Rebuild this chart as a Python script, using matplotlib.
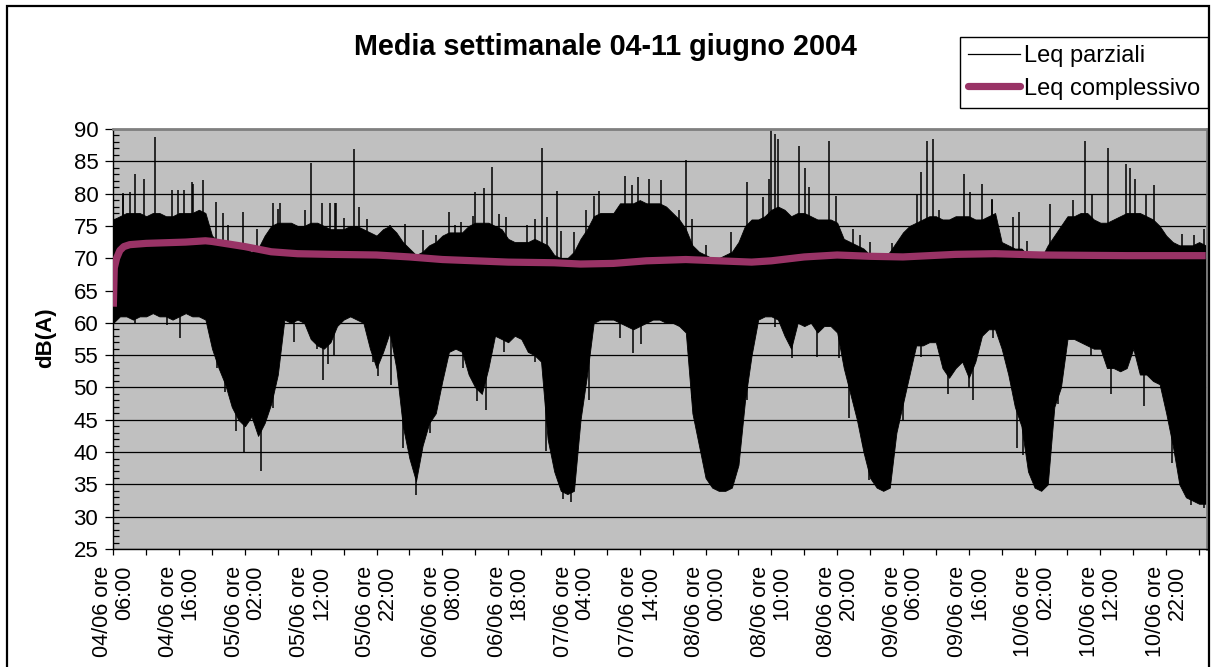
import datetime
import numpy as np
import matplotlib
matplotlib.use("Agg")
import matplotlib.pyplot as plt
from matplotlib.patches import Rectangle
from matplotlib.lines import Line2D
from matplotlib.ticker import MultipleLocator

plt.rcParams['font.family'] = ['Liberation Sans', 'DejaVu Sans']

# ---- data: hours elapsed since 04/06/2004 06:00 ----
# Leq parziali: dense envelope of the short-term levels, one value per hour
hours = list(range(167))
leq_top = [
    76, 76.5, 77, 77, 77, 76.5, 77, 77, 76.5, 76.5,
    77, 77, 77, 77.5, 77, 73.5, 72.5, 72, 72, 71.5,
    71.5, 71, 71.5, 73.5, 75, 75.5, 75.5, 75.5, 75, 75,
    75.5, 75.5, 75, 74.5, 74.5, 74.5, 75, 75, 74.5, 74,
    73.5, 74.5, 75, 74, 72.5, 71.5, 70.5, 71, 72, 72.5,
    73.5, 74, 74, 74, 75, 75.5, 75.5, 75.5, 75, 74.5,
    73, 72.5, 72.5, 72.5, 73, 72.5, 72, 70.5, 70, 70,
    71, 73, 74.5, 76.5, 77, 77, 77, 78.5, 78.5, 78.5,
    79, 78.5, 78.5, 78.5, 78, 77, 76, 74.5, 72, 71,
    70.5, 70, 70, 70.5, 71, 72.5, 75, 76, 76, 76.5,
    77.5, 78, 77.5, 76.5, 77, 77, 76.5, 76, 76, 76,
    75.5, 73, 72.5, 72, 71.5, 70.5, 70, 70, 71, 72.5,
    74, 75, 75.5, 76, 76.5, 76.5, 76, 76, 76.5, 76.5,
    76.5, 76, 76, 76.5, 77, 72.5, 72, 71.5, 71.5, 70.5,
    70, 70, 72, 73.5, 75, 76.5, 76.5, 77, 77, 76,
    75.5, 75.5, 76, 76.5, 77, 77, 77, 76.5, 76, 75,
    73.5, 72.5, 72, 72, 72, 72.5, 72,
]
leq_bottom = [
    60, 61, 61, 60.5, 61, 61, 61.5, 61, 61, 60.5,
    61, 61.5, 61, 61, 60.5, 56, 53, 50.5, 47, 45,
    44, 45.5, 42.5, 44.5, 47.5, 52, 60.5, 60, 60.5, 60,
    57.5, 56.5, 56, 57, 59.5, 60.5, 61, 60.5, 60, 56,
    53, 55.5, 58.5, 53, 44, 39, 35.5, 41, 44.5, 46,
    51, 55.5, 56, 55.5, 52, 50, 49, 53, 58, 57.5,
    57, 58, 57.5, 55.5, 55, 54, 42, 37, 34, 33.5,
    34, 45, 52, 60, 60.5, 60.5, 60.5, 60, 59.5, 59,
    59.5, 60, 60.5, 60.5, 60, 60, 59.5, 58.5, 46, 41,
    36, 34.5, 34, 34, 34.5, 38, 48, 55, 60.5, 61,
    61, 60.5, 58, 56, 60, 59.5, 60, 58.5, 59.5, 59.5,
    58.5, 53, 49, 45, 40, 36, 34.5, 34, 34.5, 43,
    47.5, 52, 56.5, 56.5, 57, 57, 53, 51.5, 53, 54,
    51.5, 54, 58, 59, 59, 56, 52, 47, 44, 37,
    34.5, 34, 35, 47, 50, 57.5, 57.5, 57, 56.5, 56,
    56, 53, 53, 52.5, 53, 56, 52, 52, 51, 50.5,
    46, 41, 35, 33, 32.5, 32, 32,
]

# isolated peaks above the envelope (hour, dB)
peak_hours = [1.4, 1.5, 2.6, 3.3, 4.6, 6.3, 8.9, 9.9, 10.7, 11.9, 12.1, 13.6,
              15.6, 16.6, 17.5, 19.7, 21.8, 24.3, 25.1, 25.4, 29.1, 30.0, 31.7,
              33.0, 33.7, 33.9, 35.1, 36.6, 37.4, 38.5, 42.0, 44.4, 47.0, 49.0,
              51.0, 52.0, 52.8, 54.6, 55.0, 56.4, 57.5, 58.6, 59.6, 62.8, 64.1,
              65.2, 65.9, 67.4, 68.0, 70.0, 71.8, 73.1, 73.8, 77.8, 78.8, 79.7,
              81.4, 83.2, 85.9, 87.0, 88.0, 90.0, 93.8, 96.3, 98.8, 99.6, 99.9,
              100.5, 101.0, 104.2, 105.1, 105.7, 108.7, 109.8, 112.4, 113.5,
              115.0, 118.3, 122.2, 122.8, 123.7, 124.5, 125.5, 129.2, 130.2,
              132.0, 133.5, 133.6, 136.7, 137.6, 138.9, 142.4, 145.8, 147.6,
              148.7, 151.2, 153.9, 154.5, 155.3, 157.0, 158.1, 162.4, 164.2,
              165.7]
peak_levels = [80.0, 80.1, 80.3, 83.1, 82.3, 88.8, 80.5, 80.6, 80.5, 81.8, 81.5,
               82.1, 78.7, 77.0, 75.1, 77.1, 74.6, 78.5, 77.6, 78.6, 77.4, 84.8,
               78.5, 78.5, 78.6, 78.5, 76.2, 86.9, 78.0, 76.1, 75.2, 75.3, 74.3,
               73.6, 77.1, 75.1, 75.6, 76.6, 80.2, 80.9, 84.1, 76.9, 76.4, 75.1,
               76.1, 87.1, 76.4, 80.4, 74.2, 74.1, 77.4, 79.6, 80.4, 82.7, 81.3,
               82.6, 82.2, 82.1, 77.4, 85.2, 76.0, 72.0, 74.1, 81.8, 79.5, 82.3,
               89.8, 89.3, 88.5, 87.4, 83.9, 81.0, 88.2, 79.7, 74.6, 73.6, 72.5,
               72.3, 80.0, 83.4, 88.2, 88.5, 77.4, 83.1, 80.3, 81.5, 79.0, 79.2,
               76.4, 77.1, 72.6, 78.4, 79.0, 88.2, 80.0, 87.1, 84.6, 83.9, 82.3,
               80.0, 81.3, 73.8, 73.6, 74.6]

# isolated dips below the envelope (hour, dB)
dip_hours = [3.3, 8.1, 10.1, 15.7, 17.0, 18.7, 19.8, 22.4, 24.3, 27.4, 30.9,
             31.9, 32.7, 33.6, 39.5, 40.2, 42.2, 44.0, 46.0, 48.1, 53.2, 55.3,
             56.7, 59.4, 64.1, 65.8, 66.9, 68.4, 69.6, 71.4, 72.3, 77.0, 79.0,
             80.2, 87.9, 88.9, 96.3, 100.5, 103.2, 106.9, 110.3, 111.8, 114.0,
             114.9, 120.0, 122.7, 126.8, 130.0, 130.7, 133.7, 136.8, 137.3,
             138.2, 143.6, 148.5, 151.6, 156.7, 159.6, 160.9, 163.7, 165.7]
dip_levels = [59.9, 59.7, 57.6, 53.0, 49.3, 43.2, 39.8, 37.0, 46.8, 57.0, 56.0,
              51.1, 53.7, 55.0, 54.0, 51.7, 50.4, 40.6, 33.4, 42.9, 53.0, 47.9,
              46.5, 55.5, 54.0, 40.1, 39.5, 32.8, 32.3, 50.4, 48.0, 57.6, 55.3,
              56.8, 48.3, 43.4, 48.0, 59.4, 54.5, 54.7, 54.5, 45.2, 41.1, 35.7,
              45.0, 54.7, 49.0, 50.0, 48.0, 57.6, 50.4, 40.6, 39.5, 47.5, 55.0,
              49.0, 47.2, 49.0, 38.3, 31.8, 31.3]

# Leq complessivo: running overall level (hour, dB)
total_hours = [0, 0.15, 0.5, 1.0, 1.6, 2.5, 5, 8, 11, 14, 15, 20, 24, 28, 33, 40,
               45, 50, 55, 60, 67, 71, 76, 81, 87, 92, 97, 100, 105, 110, 115,
               120, 124, 128, 134, 141, 154, 166]
total_levels = [62.5, 68.5, 70.0, 71.2, 71.8, 72.1, 72.3, 72.4, 72.5, 72.7, 72.6,
                71.8, 71.0, 70.7, 70.6, 70.5, 70.2, 69.8, 69.6, 69.4, 69.3, 69.1,
                69.2, 69.6, 69.8, 69.6, 69.4, 69.6, 70.2, 70.5, 70.3, 70.2, 70.4,
                70.6, 70.7, 70.5, 70.4, 70.4]

start_time = datetime.datetime(2004, 6, 4, 6, 0)
title = "Media settimanale 04-11 giugno 2004"

# ---- figure ----
W, H = 1215, 667
fig = plt.figure(figsize=(W / 100, H / 100), dpi=100)
left, right, top, bottom = 113.3, 1207, 129, 549
ax = fig.add_axes([left / W, 1 - bottom / H, (right - left) / W, (bottom - top) / H])
ax.set_facecolor('#C0C0C0')
ax.set_xlim(0, 166.2)
ax.set_ylim(25, 90)

PLUM = '#993366'

ax.fill_between(hours, leq_bottom, leq_top, color='black', lw=0.6, zorder=2)
ax.vlines(peak_hours, 66, peak_levels, color='black', lw=1.1, zorder=2)
ax.vlines(dip_hours, dip_levels, 66, color='black', lw=1.1, zorder=2)
ax.plot(total_hours, total_levels, color=PLUM, lw=5.2, solid_capstyle='butt',
        solid_joinstyle='round', zorder=3)

# y axis
ax.yaxis.set_major_locator(MultipleLocator(5))
ax.yaxis.set_minor_locator(MultipleLocator(1))
ax.tick_params(axis='y', which='major', direction='out', length=5.8, width=0.9,
               labelsize=16, pad=5)
ax.tick_params(axis='y', which='minor', direction='in', length=4.3, width=0.9)
ax.yaxis.grid(True, which='major', color='black', lw=0.9, zorder=1)
ax.set_axisbelow(True)

# x axis: tick every 5 hours, label every 10 hours
ticks = list(range(0, 166, 5))
labels = []
for t in ticks:
    if t % 10 == 0:
        d = start_time + datetime.timedelta(hours=t)
        labels.append(f"{d:%d/%m} ore\n{d:%H:%M}")
    else:
        labels.append("")
ax.set_xticks(ticks)
ax.set_xticklabels(labels, rotation=90, fontsize=15.5, linespacing=1.05)
for lbl in ax.get_xticklabels():
    lbl.set_multialignment('right')
ax.tick_params(axis='x', direction='out', length=4.3, width=0.9, pad=8)

for s in ('left', 'bottom'):
    ax.spines[s].set_color('black')
    ax.spines[s].set_linewidth(1.0)
for s in ('top', 'right'):
    ax.spines[s].set_color('#808080')
    ax.spines[s].set_linewidth(2.0)

# titles
fig.text(605 / W, 1 - 47 / H, title, ha='center', va='center',
         fontsize=20.7, fontweight='bold')
fig.text(46 / W, 1 - 338 / H, 'dB(A)', ha='center', va='center', rotation=90,
         fontsize=16, fontweight='bold')

# legend
handles = [Line2D([], [], color='black', lw=0.9),
           Line2D([], [], color=PLUM, lw=5.2, solid_capstyle='round')]
leg = fig.legend(handles, ['Leq parziali', 'Leq complessivo'],
                 loc='upper right', bbox_to_anchor=(1208 / W, 1 - 36.7 / H),
                 fontsize=17, frameon=True, fancybox=False, edgecolor='black',
                 framealpha=1, borderaxespad=0, borderpad=0.35, handlelength=2.2,
                 handletextpad=0.15, labelspacing=0.45)
leg.get_frame().set_linewidth(1.0)

# chart-area border
fig.patches.append(Rectangle((7 / W, -0.05), (1208.5 - 7) / W, 1.05 - 6 / H,
                             transform=fig.transFigure, fill=False,
                             ec='black', lw=1.6))

fig.savefig('out.png', dpi=100)
